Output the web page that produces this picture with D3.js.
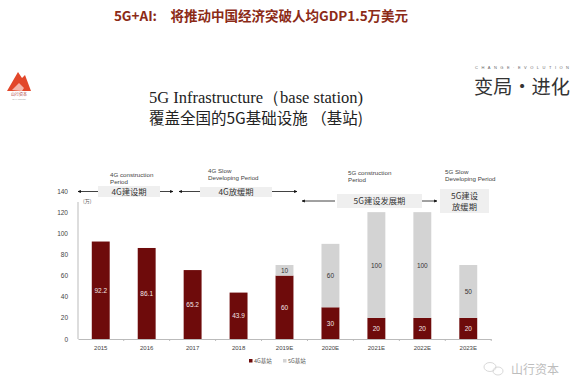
<!DOCTYPE html>
<html>
<head>
<meta charset="utf-8">
<script src="https://cdn.jsdelivr.net/npm/d3@7"></script>
<style>
  body { margin: 0; background: #fff; }
  svg { display: block; }
</style>
</head>
<body>
<div id="chart"></div>
<script>
// data
const years = ["2015", "2016", "2017", "2018", "2019E", "2020E", "2021E", "2022E", "2023E"];
const base4G = [92.2, 86.1, 65.2, 43.9, 60, 30, 20, 20, 20];
const base5G = [0, 0, 0, 0, 10, 60, 100, 100, 50];
const label4G = ["92.2", "86.1", "65.2", "43.9", "60", "30", "20", "20", "20"];
const label5G = ["", "", "", "", "10", "60", "100", "100", "50"];
const yTicks = [0, 20, 40, 60, 80, 100, 120, 140];
const seriesNames = ["4G基站", "5G基站"];

const W = 576, H = 383;
const red = "#6e0b0b", grey = "#d3d3d3";

const svg = d3.select("#chart").append("svg")
    .attr("width", W).attr("height", H);

// slide header
svg.append("text")
    .attr("x", 261).attr("y", 21)
    .attr("text-anchor", "middle")
    .attr("font-family", "Noto Sans CJK SC")
    .attr("font-weight", "bold")
    .attr("font-size", 13.5)
    .attr("fill", "#8c2b17")
    .text("5G+AI:　将推动中国经济突破人均GDP1.5万美元");

// left logo (mountain)
const logo = svg.append("g");
logo.append("path")
    .attr("d", "M7,91 L18,72 L22,78 L25,75 L31,91 Z")
    .attr("fill", "#e2472a");
logo.append("path")
    .attr("d", "M12,90 L19,83 L24,88 L22,91 Z")
    .attr("fill", "#fff").attr("opacity", 0.6);
logo.append("text").attr("x", 19).attr("y", 96).attr("text-anchor", "middle")
    .attr("font-family", "Noto Sans CJK SC").attr("font-size", 4).attr("fill", "#a33")
    .text("山行资本");
logo.append("text").attr("x", 19).attr("y", 100).attr("text-anchor", "middle")
    .attr("font-family", "Liberation Sans").attr("font-size", 2.5).attr("fill", "#999")
    .text("SHX Capital");

// right logo
svg.append("text").attr("x", 475).attr("y", 69)
    .attr("font-family", "Liberation Sans").attr("font-size", 4)
    .attr("textLength", 94).attr("lengthAdjust", "spacing")
    .attr("fill", "#666")
    .text("CHANGE·EVOLUTION");
svg.append("text").attr("x", 474).attr("y", 94)
    .attr("font-family", "Noto Sans CJK SC").attr("font-size", 19)
    .attr("textLength", 96).attr("lengthAdjust", "spacingAndGlyphs")
    .attr("fill", "#333")
    .text("变局·进化");

// chart title
svg.append("text").attr("x", 256).attr("y", 103).attr("text-anchor", "middle")
    .attr("font-family", "Liberation Serif").attr("font-size", 16.5).attr("fill", "#222")
    .text("5G Infrastructure（base station)");
svg.append("text").attr("x", 256).attr("y", 124).attr("text-anchor", "middle")
    .attr("font-family", "Noto Sans CJK SC").attr("font-size", 15.5).attr("fill", "#222")
    .text("覆盖全国的5G基础设施 （基站)");

// scales
const x = d3.scaleBand().domain(years).range([78, 491]).paddingInner(0.61).paddingOuter(0.3);
const y = d3.scaleLinear().domain([0, 140]).range([339, 191]);

const rows = years.map((yr, i) => ({ year: yr, a: base4G[i], b: base5G[i], la: label4G[i], lb: label5G[i] }));

// y axis
const yAxis = svg.append("g")
    .attr("transform", "translate(78,0)")
    .call(d3.axisLeft(y).tickValues(yTicks).tickSize(0).tickPadding(10));
yAxis.select(".domain").attr("stroke", "#bbb").attr("d", `M0,${y(0)}V202`);
yAxis.selectAll("text").attr("font-family", "Liberation Sans").attr("font-size", 6.5).attr("fill", "#444");

svg.append("text").attr("x", 83).attr("y", 203)
    .attr("font-family", "Noto Sans CJK SC").attr("font-size", 5).attr("fill", "#555")
    .text("(万)");

// x axis
const xAxis = svg.append("g")
    .attr("transform", `translate(0,${y(0)})`)
    .call(d3.axisBottom(x).tickSize(0).tickPadding(7));
xAxis.select(".domain").attr("stroke", "#bbb");
xAxis.selectAll("text").attr("font-family", "Liberation Sans").attr("font-size", 6).attr("fill", "#444");
// small separators between categories
const step = x.step();
svg.append("g").selectAll("line")
    .data(years)
    .join("line")
    .attr("x1", d => x(d) + x.bandwidth() / 2 + step / 2)
    .attr("x2", d => x(d) + x.bandwidth() / 2 + step / 2)
    .attr("y1", y(0)).attr("y2", y(0) + 2)
    .attr("stroke", "#bbb");

// bars
svg.append("g").selectAll("rect")
    .data(rows)
    .join("rect")
    .attr("x", d => x(d.year))
    .attr("width", x.bandwidth())
    .attr("y", d => y(d.a))
    .attr("height", d => y(0) - y(d.a))
    .attr("fill", red);

svg.append("g").selectAll("rect")
    .data(rows.filter(d => d.b > 0))
    .join("rect")
    .attr("x", d => x(d.year))
    .attr("width", x.bandwidth())
    .attr("y", d => y(d.a + d.b))
    .attr("height", d => y(d.a) - y(d.a + d.b))
    .attr("fill", grey);

// value labels
svg.append("g").selectAll("text")
    .data(rows)
    .join("text")
    .attr("x", d => x(d.year) + x.bandwidth() / 2)
    .attr("y", d => (y(0) + y(d.a)) / 2 + 2.5)
    .attr("text-anchor", "middle")
    .attr("font-family", "Liberation Sans").attr("font-size", 6.5)
    .attr("fill", "#f2e6e6")
    .text(d => d.la);

svg.append("g").selectAll("text")
    .data(rows.filter(d => d.b > 0))
    .join("text")
    .attr("x", d => x(d.year) + x.bandwidth() / 2)
    .attr("y", d => (y(d.a) + y(d.a + d.b)) / 2 + 2.5)
    .attr("text-anchor", "middle")
    .attr("font-family", "Liberation Sans").attr("font-size", 6.5)
    .attr("fill", "#333")
    .text(d => d.lb);

// period annotations
svg.append("defs").append("marker")
    .attr("id", "ah").attr("viewBox", "0 0 10 10")
    .attr("refX", 9).attr("refY", 5)
    .attr("markerWidth", 4).attr("markerHeight", 4)
    .attr("orient", "auto-start-reverse")
    .append("path").attr("d", "M0,0 L10,5 L0,10 Z").attr("fill", "#111");

const periods = [
    { en: ["4G construction", "Period"], enX: 110, enY: 177, box: [98, 186, 62, 11], cn: ["4G建设期"], left: [98, 78], right: [160, 173], ay: 191.5 },
    { en: ["4G Slow", "Developing Period"], enX: 208, enY: 173, box: [200, 187, 72, 10], cn: ["4G放缓期"], left: [200, 179], right: [272, 297], ay: 191.5 },
    { en: ["5G construction", "Period"], enX: 348, enY: 175, box: [337, 194, 85, 14], cn: ["5G建设发展期"], left: [335, 302], right: [422, 437], ay: 201 },
    { en: ["5G Slow", "Developing Period"], enX: 445, enY: 174, box: [440, 189, 49, 24], cn: ["5G建设", "放缓期"], left: null, right: null, ay: 0 }
];

const ann = svg.append("g");
periods.forEach(p => {
    ann.append("rect")
        .attr("x", p.box[0]).attr("y", p.box[1])
        .attr("width", p.box[2]).attr("height", p.box[3])
        .attr("fill", "#efefef");
    p.en.forEach((t, k) => {
        ann.append("text").attr("x", p.enX).attr("y", p.enY + k * 6.8)
            .attr("font-family", "Liberation Sans").attr("font-size", 6.2)
            .attr("fill", "#444").text(t);
    });
    const cx = p.box[0] + p.box[2] / 2;
    const n = p.cn.length;
    p.cn.forEach((t, k) => {
        ann.append("text").attr("x", cx)
            .attr("y", p.box[1] + p.box[3] / 2 + 3 + (k - (n - 1) / 2) * 11)
            .attr("text-anchor", "middle")
            .attr("font-family", "Noto Sans CJK SC").attr("font-size", 8.3)
            .attr("fill", "#333").text(t);
    });
    [p.left, p.right].forEach(seg => {
        if (!seg) return;
        ann.append("line")
            .attr("x1", seg[0]).attr("x2", seg[1])
            .attr("y1", p.ay).attr("y2", p.ay)
            .attr("stroke", "#111").attr("stroke-width", 0.8)
            .attr("marker-end", "url(#ah)");
    });
});

// legend
const legend = svg.append("g").attr("transform", "translate(249,362)");
seriesNames.forEach((name, i) => {
    const g = legend.append("g").attr("transform", `translate(${i * 34},0)`);
    g.append("rect").attr("x", 0).attr("y", -3).attr("width", 3.5).attr("height", 3.5)
        .attr("fill", i === 0 ? red : grey);
    g.append("text").attr("x", 5).attr("y", 1)
        .attr("font-family", "Noto Sans CJK SC").attr("font-size", 5.5).attr("fill", "#555")
        .text(name);
});

// watermark
const wm = svg.append("g").attr("opacity", 0.55);
wm.append("ellipse").attr("cx", 490).attr("cy", 367).attr("rx", 6).attr("ry", 4.5)
    .attr("fill", "none").attr("stroke", "#aaa").attr("stroke-width", 0.8);
wm.append("ellipse").attr("cx", 498).attr("cy", 371).attr("rx", 5).attr("ry", 4)
    .attr("fill", "none").attr("stroke", "#aaa").attr("stroke-width", 0.8);
wm.append("text").attr("x", 511).attr("y", 374)
    .attr("font-family", "Noto Sans CJK SC").attr("font-size", 12).attr("fill", "#888")
    .text("山行资本");
</script>
</body>
</html>
